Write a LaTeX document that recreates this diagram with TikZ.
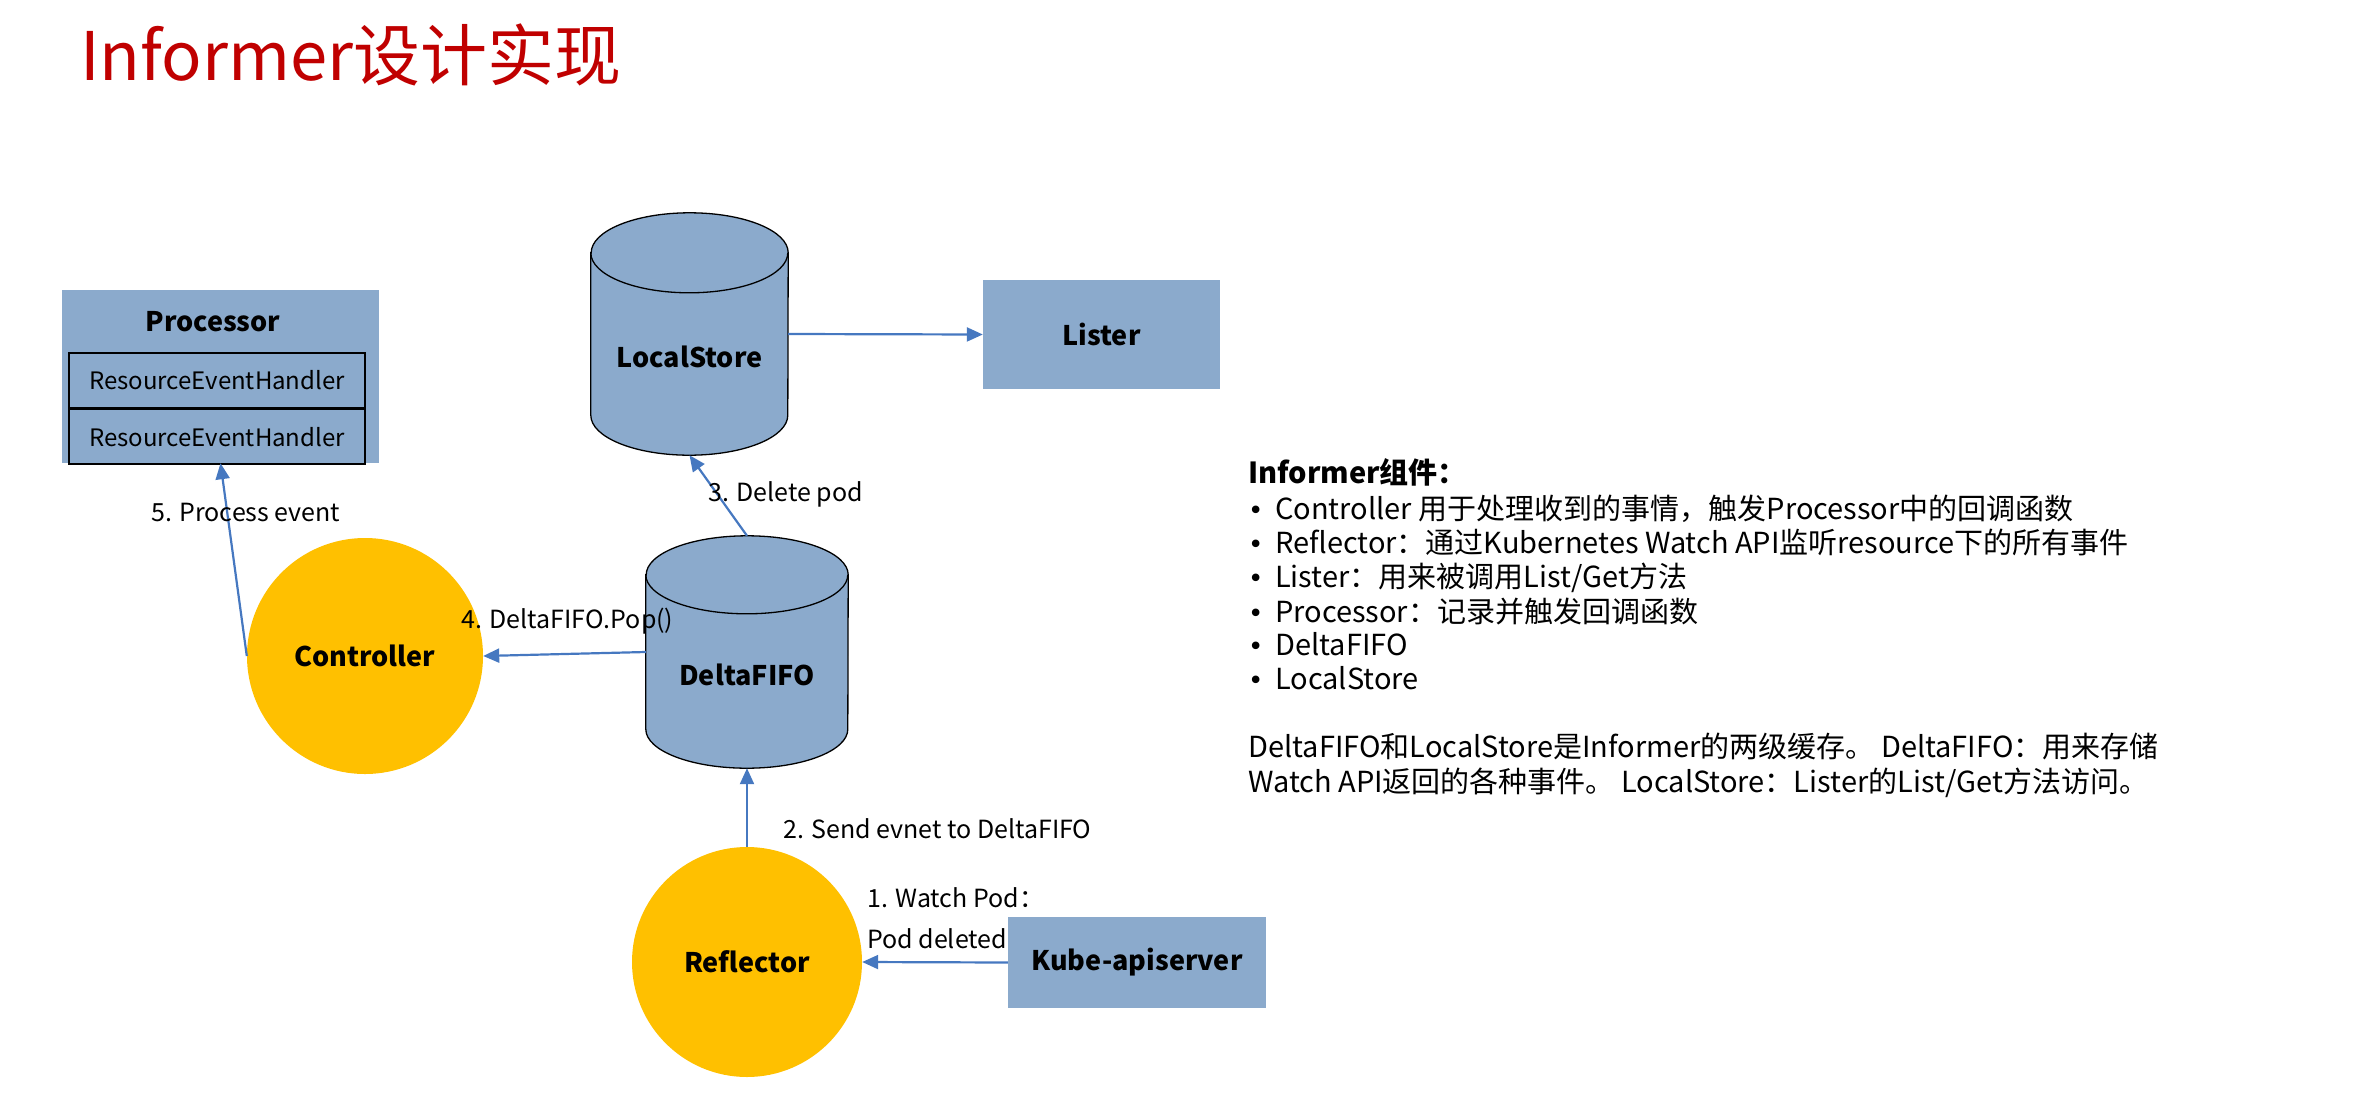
\documentclass[tikz,border=0pt]{standalone}
\usepackage{fontspec}
\setmainfont{Noto Sans CJK SC}
\newfontfamily\dotfont{DejaVu Sans}
\usetikzlibrary{arrows.meta,positioning,calc}
\definecolor{boxblue}{RGB}{139,170,204}
\definecolor{arrowblue}{RGB}{70,120,192}
\definecolor{ctrlyellow}{RGB}{255,192,0}
\definecolor{titlered}{RGB}{192,0,0}
% cylinder drawn round an empty node: name, x radius, y radius
\newcommand{\drawdrum}[3]{%
\draw[drum] ([yshift=-#3]#1.north west) -- ([yshift=#3]#1.south west) arc[start angle=180,end angle=360,x radius=#2,y radius=#3] -- ([yshift=-#3]#1.north east) arc[start angle=0,end angle=180,x radius=#2,y radius=#3] -- cycle;
\draw[drum line] ([yshift=-#3]#1.north west) arc[start angle=180,end angle=360,x radius=#2,y radius=#3];}
\newcommand{\bul}{\makebox[27pt][l]{\dotfont\fontsize{26}{30}\selectfont •}}

\begin{document}
\begin{tikzpicture}[x=1pt,y=-1pt,>={Triangle[length=16pt,width=14pt]},
box node/.style={rectangle,fill=boxblue,inner sep=0pt,font=\fontsize{27}{32}\selectfont\bfseries},
main node/.style={circle,fill=ctrlyellow,inner sep=0pt,font=\fontsize{27}{32}\selectfont\bfseries},
drum node/.style={rectangle,inner sep=0pt},
drum/.style={draw=black,line width=1.3pt,fill=boxblue},
drum line/.style={draw=black,line width=1.3pt},
handler node/.style={rectangle,draw=black,line width=1.6pt,fill=boxblue,minimum width=296pt,minimum height=54.5pt,font=\fontsize{24}{28}\selectfont},
flow/.style={->,draw=arrowblue,line width=2.2pt}]
\useasboundingbox (0,0) rectangle (2353,1095);
\node[anchor=base west,inner sep=0pt,text=titlered,font=\fontsize{67}{78}\selectfont] (title) at (80,80) {Informer设计实现};

% boxes
\node[box node,minimum width=317pt,minimum height=173pt] (proc) at (220.5,376.5) {};
\node[inner sep=0pt,font=\fontsize{27}{32}\selectfont\bfseries] (proctitle) at (213,322) {Processor};
\node[handler node] (h1) at (217,380.5) {ResourceEventHandler};
\node[handler node,below=0pt of h1] (h2) {ResourceEventHandler};
\node[box node,minimum width=237pt,minimum height=109pt] (lister) at (1101.5,334.5) {Lister};
\node[box node,minimum width=258pt,minimum height=91pt] (kube) at (1137,962.5) {Kube-apiserver};

% stores
\node[drum node,minimum width=197pt,minimum height=242pt] (lstore) at (689.5,334) {};
\drawdrum{lstore}{98.5pt}{40pt}
\node[inner sep=0pt,font=\fontsize{27}{32}\selectfont\bfseries] (lstoretext) at (689.5,357) {LocalStore};
\node[drum node,minimum width=202pt,minimum height=232pt] (dfifo) at (747,652) {};
\drawdrum{dfifo}{101pt}{39pt}
\node[inner sep=0pt,font=\fontsize{27}{32}\selectfont\bfseries] (dfifotext) at (747,675) {DeltaFIFO};

% workers
\node[main node,minimum size=236pt] (ctrl) at (365,656) {Controller};
\node[main node,minimum size=230pt] (refl) at (747,962) {Reflector};

\begin{scope}
\draw[flow] (kube.west) -- (refl.east);
\draw[flow] (refl.north) -- (dfifo.south);
\draw[flow] (dfifo.north) -- (lstore.south);
\draw[flow] (lstore.east) -- (lister.west);
\draw[flow] (dfifo.west) -- (ctrl.east);
\draw[flow] (ctrl.west) -- (proc.south);
\end{scope}

\begin{scope}[every node/.style={anchor=base west,inner sep=0pt,font=\fontsize{25}{30}\selectfont}]
\node (lbl1) at (867,907) {1. Watch Pod：};
\node (lbl1b) at (867,948) {Pod deleted};
\node (lbl2) at (783,838) {2. Send evnet to DeltaFIFO};
\node (lbl3) at (708,501) {3. Delete pod};
\node (lbl4) at (461,628) {4. DeltaFIFO.Pop()};
\node (lbl5) at (151,521) {5. Process event};
\end{scope}

\begin{scope}[every node/.style={anchor=base west,inner sep=0pt,font=\fontsize{29}{34}\selectfont}]
\node[font=\fontsize{29}{34}\selectfont\bfseries] (infohead) at (1248,483) {Informer组件：};
\node (info1) at (1248,519) {\bul Controller 用于处理收到的事情，触发Processor中的回调函数};
\node (info2) at (1248,553) {\bul Reflector：通过Kubernetes Watch API监听resource下的所有事件};
\node (info3) at (1248,587) {\bul Lister：用来被调用List/Get方法};
\node (info4) at (1248,622) {\bul Processor：记录并触发回调函数};
\node (info5) at (1248,655) {\bul DeltaFIFO};
\node (info6) at (1248,689) {\bul LocalStore};
\node (note1) at (1248,757) {DeltaFIFO和LocalStore是Informer的两级缓存。 DeltaFIFO：用来存储};
\node (note2) at (1248,792) {Watch API返回的各种事件。 LocalStore：Lister的List/Get方法访问。};
\end{scope}
\end{tikzpicture}
\end{document}
